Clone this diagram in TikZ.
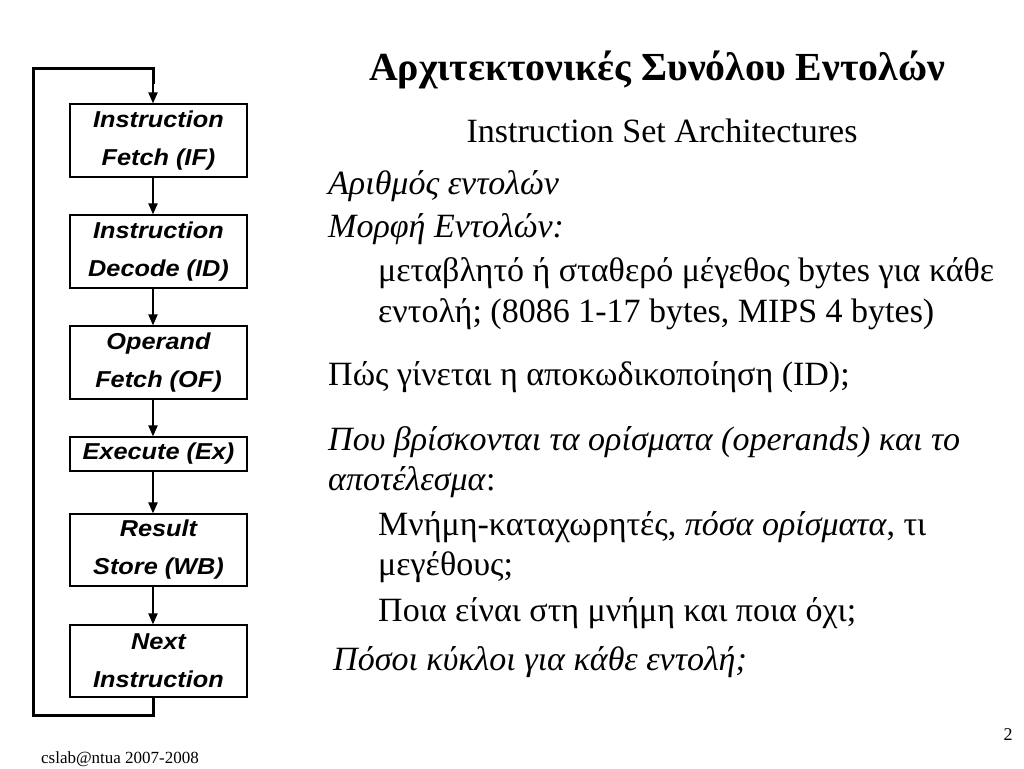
\documentclass[tikz,border=0pt]{standalone}
\usepackage{fontspec}
\setmainfont{Liberation Serif}
\newfontfamily\arialfont{Liberation Sans}
\usetikzlibrary{arrows.meta,calc}
\begin{document}
\begin{tikzpicture}[x=1pt,y=-1pt,
  stagebox/.style={draw,line width=1.2pt,minimum width=177pt,inner sep=0pt,align=center,
    font=\arialfont\bfseries\itshape\fontsize{23}{38}\selectfont},
  flow/.style={line width=2pt,-{Triangle[length=11pt,width=9pt]}},
  loopline/.style={line width=3pt},
  body/.style={anchor=base west,inner sep=0pt,font=\fontsize{34}{40}\selectfont},
]
\useasboundingbox (0,0) rectangle (1024,768);
% stages
\node[stagebox,minimum height=73pt] (IF) at (158.5,140.5) {\scalebox{1.1}[1]{Instruction}\\\scalebox{1.1}[1]{Fetch (IF)}};
\node[stagebox,minimum height=73pt] (ID) at (158.5,251.5) {\scalebox{1.1}[1]{Instruction}\\\scalebox{1.1}[1]{Decode (ID)}};
\node[stagebox,minimum height=73pt] (OF) at (158.5,362.5) {\scalebox{1.1}[1]{Operand}\\\scalebox{1.1}[1]{Fetch (OF)}};
\node[stagebox,minimum height=34pt] (EX) at (158.5,454) {\scalebox{1.1}[1]{Execute (Ex)}};
\node[stagebox,minimum height=72pt] (WB) at (158.5,550) {\scalebox{1.1}[1]{Result}\\\scalebox{1.1}[1]{Store (WB)}};
\node[stagebox,minimum height=72pt] (NX) at (158.5,661) {\scalebox{1.1}[1]{Next}\\\scalebox{1.1}[1]{Instruction}};
\coordinate (ax) at (153,0);
\coordinate (lb) at (33,715);
\coordinate (lt) at (33,68);
\draw[flow] (IF.south -| ax) -- (ID.north -| ax);
\draw[flow] (ID.south -| ax) -- (OF.north -| ax);
\draw[flow] (OF.south -| ax) -- (EX.north -| ax);
\draw[flow] (EX.south -| ax) -- (WB.north -| ax);
\draw[flow] (WB.south -| ax) -- (NX.north -| ax);
\draw[loopline,line join=miter] (NX.south -| ax) -- (ax |- lb) -- (lb) -- (lt) -- (ax |- lt) -- ++(0,16);
\draw[flow] (153,82) -- (IF.north -| ax);
% texts
\node[anchor=base,inner sep=0pt,font=\bfseries\fontsize{39.8}{46}\selectfont] (title) at (657,80) {Αρχιτεκτονικές Συνόλου Εντολών};
\node[anchor=base,inner sep=0pt,font=\fontsize{34}{40}\selectfont] (sub) at (662,142) {Instruction Set Architectures};
\node[body] (t1) at (328,194) {\itshape Αριθμός εντολών};
\node[body] (t2) at (328,237) {\itshape Μορφή Εντολών:};
\node[body] (t3) at (378,281) {μεταβλητό ή σταθερό μέγεθος bytes για κάθε};
\node[body] (t4) at (378,322) {εντολή; (8086 1-17 bytes, MIPS 4 bytes)};
\node[body] (t5) at (328,385) {Πώς γίνεται η αποκωδικοποίηση (ID);};
\node[body] (t6) at (328,450) {\itshape Που βρίσκονται τα ορίσματα (operands) και το};
\node[body] (t7) at (328,490) {\textit{αποτέλεσμα}:};
\node[body] (t8) at (378,535) {Μνήμη-καταχωρητές, \textit{πόσα ορίσματα}, τι};
\node[body] (t9) at (378,575) {μεγέθους;};
\node[body] (t10) at (378,621) {Ποια είναι στη μνήμη και ποια όχι;};
\node[body] (t11) at (333,670) {\itshape Πόσοι κύκλοι για κάθε εντολή;};
\node[anchor=base,inner sep=0pt,font=\fontsize{18}{20}\selectfont] (pg) at (1008,740) {2};
\node[anchor=base,inner sep=0pt,font=\fontsize{17}{20}\selectfont] (foot) at (120,763) {cslab@ntua 2007-2008};
\end{tikzpicture}
\end{document}
